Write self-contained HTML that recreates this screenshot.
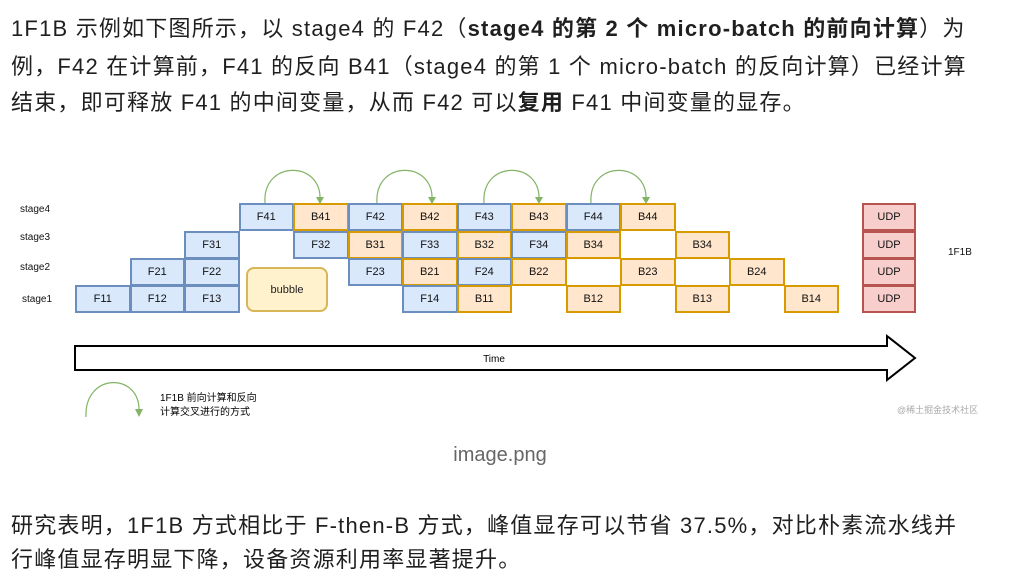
<!DOCTYPE html>
<html><head><meta charset="utf-8"><style>
body{margin:0;width:1009px;height:581px;background:#fff;position:relative;overflow:hidden;font-family:"Liberation Sans","Noto Sans CJK SC",sans-serif;color:#1f1f1f}
.l{position:absolute;left:11px;font-size:22px;letter-spacing:1.2px;white-space:nowrap;line-height:30px}
b{font-weight:bold}
.c{position:absolute;box-sizing:border-box;height:28px;width:55.5px;font-size:11px;display:flex;align-items:center;justify-content:center;color:#111}
.f{background:#dae8fc;border:2px solid #6c8ebf}
.b{background:#ffe6cc;border:2px solid #d79b00}
.u{background:#f8cecc;border:2px solid #b85450}
.s{position:absolute;font-size:10px;color:#111}
</style></head><body>
<div class="l" style="top:14px">1F1B 示例如下图所示，以 stage4 的 F42（<b>stage4 的第 2 个 micro-batch 的前向计算</b>）为</div>
<div class="l" style="top:52px">例，F42 在计算前，F41 的反向 B41（stage4 的第 1 个 micro-batch 的反向计算）已经计算</div>
<div class="l" style="top:88px">结束，即可释放 F41 的中间变量，从而 F42 可以<b>复用</b> F41 中间变量的显存。</div>

<div class="s" style="left:20px;top:204px">stage4</div>
<div class="s" style="left:20px;top:232px">stage3</div>
<div class="s" style="left:20px;top:262px">stage2</div>
<div class="s" style="left:22px;top:294px">stage1</div>

<div id="g"></div>
<div style="position:absolute;left:246px;top:267px;width:82px;height:45px;box-sizing:border-box;background:#fff2cc;border:2px solid #d6b656;border-radius:8px;font-size:11px;display:flex;align-items:center;justify-content:center">bubble</div>
<div class="s" style="left:948px;top:247px">1F1B</div>

<svg style="position:absolute;left:0;top:0" width="1009" height="581">
<g fill="none" stroke="#82b366" stroke-width="1.2">
<path d="M265,203 C262,160 322,160 320,200"/>
<path d="M377,203 C374,160 434,160 432,200"/>
<path d="M484,203 C481,160 541,160 539,200"/>
<path d="M591,203 C588,160 648,160 646,200"/>
<path d="M86,417 C84,372 141,372 139,412"/>
</g>
<g fill="#82b366">
<path d="M316,197 L324,197 L320,204Z"/><path d="M428,197 L436,197 L432,204Z"/>
<path d="M535,197 L543,197 L539,204Z"/><path d="M642,197 L650,197 L646,204Z"/>
<path d="M135,409 L143,409 L139,417Z"/>
</g>
<path d="M75,346 L887,346 L887,336 L915,358 L887,380 L887,370 L75,370Z" fill="#fff" stroke="#000" stroke-width="2"/>
<text x="494" y="362" font-size="10" text-anchor="middle" font-family="Liberation Sans">Time</text>
<text x="160" y="401" font-size="10" font-family="Liberation Sans,Noto Sans CJK SC,sans-serif">1F1B 前向计算和反向</text>
<text x="160" y="415" font-size="10" font-family="Liberation Sans,Noto Sans CJK SC,sans-serif">计算交叉进行的方式</text>
<text x="897" y="413" font-size="9" fill="#aaa" font-family="Liberation Sans,Noto Sans CJK SC,sans-serif">@稀土掘金技术社区</text>
</svg>

<div style="position:absolute;left:0;width:1000px;top:444px;text-align:center;font-size:20px;color:#666">image.png</div>
<div class="l" style="top:511px">研究表明，1F1B 方式相比于 F-then-B 方式，峰值显存可以节省 37.5%，对比朴素流水线并</div>
<div class="l" style="top:545px">行峰值显存明显下降，设备资源利用率显著提升。</div>

<script>
var rows=[
["F41","B41","F42","B42","F43","B43","F44","B44"].map(function(n,i){return [3+i,n]}),
[[2,"F31"],[4,"F32"],[5,"B31"],[6,"F33"],[7,"B32"],[8,"F34"],[9,"B34"],[11,"B34"]],
[[1,"F21"],[2,"F22"],[5,"F23"],[6,"B21"],[7,"F24"],[8,"B22"],[10,"B23"],[12,"B24"]],
[[0,"F11"],[1,"F12"],[2,"F13"],[6,"F14"],[7,"B11"],[9,"B12"],[11,"B13"],[13,"B14"]]];
var ys=[203,230.5,258,285],h="";
rows.forEach(function(r,ri){r.forEach(function(c){
h+='<div class="c '+(c[1][0]=="F"?"f":"b")+'" style="left:'+(75+c[0]*54.5)+'px;top:'+ys[ri]+'px">'+c[1]+'</div>';});
h+='<div class="c u" style="left:862px;top:'+ys[ri]+'px;width:54px">UDP</div>';});
document.getElementById("g").innerHTML=h;
</script>
</body></html>
